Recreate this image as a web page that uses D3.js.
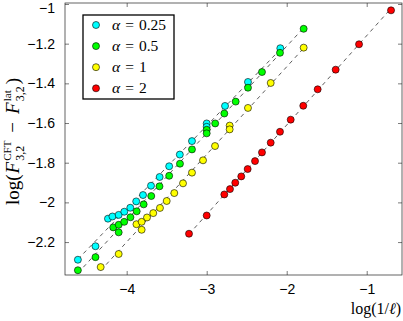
<!DOCTYPE html>
<html>
<head>
<meta charset="utf-8">
<script src="https://cdn.jsdelivr.net/npm/d3@7"></script>
<style>
  body { margin: 0; background: #fff; }
  svg { display: block; }
</style>
</head>
<body>
<div id="chart"></div>
<script>
// tick values
const xTicks = [-4, -3, -2, -1]
const yTicks = [-2.2, -2, -1.8, -1.6, -1.4, -1.2, -1]

// legend
const alphaLabels = ['0.25', '0.5', '1', '2']
const seriesColors = ['#00ffff', '#00ff00', '#ffff00', '#ff0000']

// alpha = 0.25
const cyanX = [-4.61, -4.39, -4.234, -4.178, -4.10, -4.03, -3.955, -3.881, -3.796, -3.696, -3.588, -3.469, -3.336, -3.184, -3.00, -3.00, -2.771, -2.484, -2.08]
const cyanY = [-2.289, -2.221, -2.082, -2.071, -2.063, -2.047, -2.027, -1.995, -1.963, -1.916, -1.872, -1.818, -1.759, -1.691, -1.602, -1.619, -1.514, -1.393, -1.223]

// alpha = 0.5
const greenX = [-4.61, -4.39, -4.168, -4.10, -4.10, -4.031, -3.953, -3.875, -3.788, -3.693, -3.59, -3.469, -3.334, -3.184, -3.00, -3.00, -2.894, -2.78, -2.638, -2.484, -2.309, -2.084, -1.788]
const greenY = [-2.342, -2.276, -2.126, -2.113, -2.151, -2.098, -2.075, -2.045, -2.010, -1.968, -1.919, -1.866, -1.805, -1.733, -1.634, -1.652, -1.602, -1.552, -1.492, -1.422, -1.343, -1.246, -1.125]

// alpha = 1
const yellowX = [-4.325, -4.10, -3.878, -3.813, -3.813, -3.746, -3.668, -3.584, -3.50, -3.405, -3.296, -3.184, -3.046, -2.896, -2.713, -2.713, -2.484, -2.20, -1.788]
const yellowY = [-2.326, -2.260, -2.110, -2.098, -2.138, -2.076, -2.054, -2.028, -1.993, -1.953, -1.904, -1.850, -1.788, -1.716, -1.613, -1.632, -1.524, -1.398, -1.220]

// alpha = 2
const redX = [-3.221, -3.000, -2.780, -2.709, -2.643, -2.568, -2.488, -2.396, -2.309, -2.200, -2.084, -1.950, -1.793, -1.613, -1.388, -1.096, -0.696]
const redY = [-2.158, -2.066, -1.960, -1.933, -1.901, -1.869, -1.832, -1.792, -1.748, -1.699, -1.644, -1.583, -1.513, -1.430, -1.331, -1.203, -1.032]

const seriesX = [cyanX, greenX, yellowX, redX]
const seriesY = [cyanY, greenY, yellowY, redY]

const width = 403
const height = 321
const margin = { top: 3, right: 1, bottom: 46, left: 65 }

const svg = d3.select('#chart').append('svg')
  .attr('width', width)
  .attr('height', height)

const xScale = d3.scaleLinear()
  .domain([-4.771, -0.559])
  .range([margin.left, width - margin.right])

const yScale = d3.scaleLinear()
  .domain([-2.366, -0.995])
  .range([height - margin.bottom, margin.top])

const fmt = d => d3.format('')(d).replace('-', '\u2212')

// axes, ticks inside like matlab
const tickLen = 4
const axisStyle = g => {
  g.select('.domain').remove()
  g.selectAll('line').attr('stroke', '#222').attr('stroke-width', 0.6)
  g.selectAll('text')
    .style('font-family', '"Liberation Sans", Arial, sans-serif')
    .style('font-size', '14px')
    .attr('fill', '#000')
}

svg.append('g')
  .attr('transform', `translate(0,${height - margin.bottom})`)
  .call(d3.axisBottom(xScale).tickValues(xTicks).tickSizeInner(-tickLen).tickSizeOuter(0).tickPadding(9).tickFormat(fmt))
  .call(axisStyle)

svg.append('g')
  .attr('transform', `translate(0,${margin.top})`)
  .call(d3.axisTop(xScale).tickValues(xTicks).tickSizeInner(-tickLen).tickSizeOuter(0).tickFormat(''))
  .call(axisStyle)

svg.append('g')
  .attr('transform', `translate(${margin.left},0)`)
  .call(d3.axisLeft(yScale).tickValues(yTicks).tickSizeInner(-tickLen).tickSizeOuter(0).tickPadding(10).tickFormat(fmt))
  .call(axisStyle)
  .selectAll('.tick text')
  .filter(d => d === -1)
  .attr('y', 4) // top label pushed down so it stays on the page

svg.append('g')
  .attr('transform', `translate(${width - margin.right},0)`)
  .call(d3.axisRight(yScale).tickValues(yTicks).tickSizeInner(-tickLen).tickSizeOuter(0).tickFormat(''))
  .call(axisStyle)

// plot box
svg.append('rect')
  .attr('x', margin.left)
  .attr('y', margin.top)
  .attr('width', width - margin.left - margin.right)
  .attr('height', height - margin.top - margin.bottom)
  .attr('fill', 'none')
  .attr('stroke', '#222')
  .attr('stroke-width', 0.7)

// dashed least squares lines
const fitLine = d3.line().x(d => xScale(d[0])).y(d => yScale(d[1]))
seriesX.forEach((xs, i) => {
  const ys = seriesY[i]
  const mx = d3.mean(xs)
  const my = d3.mean(ys)
  const slope = d3.sum(xs, (x, j) => (x - mx) * (ys[j] - my)) / d3.sum(xs, x => (x - mx) * (x - mx))
  const [x0, x1] = d3.extent(xs)
  svg.append('path')
    .datum([[x0, my + slope * (x0 - mx)], [x1, my + slope * (x1 - mx)]])
    .attr('d', fitLine)
    .attr('fill', 'none')
    .attr('stroke', '#333')
    .attr('stroke-width', 0.8)
    .attr('stroke-dasharray', '4,4')
})

// markers
seriesX.forEach((xs, i) => {
  svg.append('g')
    .selectAll('circle')
    .data(xs.map((x, j) => [x, seriesY[i][j]]))
    .enter()
    .append('circle')
    .attr('cx', d => xScale(d[0]))
    .attr('cy', d => yScale(d[1]))
    .attr('r', 3.5)
    .attr('fill', seriesColors[i])
    .attr('stroke', '#000')
    .attr('stroke-width', 0.6)
})

// legend
const serif = '"Liberation Serif", "DejaVu Serif", serif'
const legend = svg.append('g')
legend.append('rect')
  .attr('x', 83)
  .attr('y', 15)
  .attr('width', 91)
  .attr('height', 84)
  .attr('fill', '#fff')
  .attr('stroke', '#000')
  .attr('stroke-width', 1.3)

alphaLabels.forEach((a, i) => {
  const cy = 25 + i * 21.1
  legend.append('circle')
    .attr('cx', 96)
    .attr('cy', cy)
    .attr('r', 3.5)
    .attr('fill', seriesColors[i])
    .attr('stroke', '#000')
    .attr('stroke-width', 0.6)
  const t = legend.append('text')
    .attr('x', 112)
    .attr('y', cy + 5)
    .style('font-family', serif)
    .style('font-size', '15.5px')
  t.append('tspan').style('font-style', 'italic').text('\u03b1')
  t.append('tspan').attr('dx', 5).text('=')
  t.append('tspan').attr('dx', 5).text(a)
})

// x label
const xl = svg.append('text')
  .attr('x', 401)
  .attr('y', 314)
  .attr('text-anchor', 'end')
  .style('font-family', serif)
  .style('font-size', '16px')
xl.append('tspan').text('log(1/')
xl.append('tspan').style('font-style', 'italic').text('\u2113')
xl.append('tspan').text(')')

// y label, pieces laid out one after another then rotated
const ylOuter = svg.append('g').attr('transform', 'translate(19,141) rotate(-90)')
const yl = ylOuter.append('g')
const pieces = [
  { t: 'log(' },
  { t: 'F', it: true, gap: 1 },
  { sup: 'CFT', sub: '3,2' },
  { t: '\u2212', gap: 7 },
  { t: 'F', it: true, gap: 1 },
  { sup: 'lat', sub: '3,2' },
  { t: ')', gap: 1 }
]
let cursor = 0
pieces.forEach(p => {
  if (p.sup) {
    const a = yl.append('text').attr('x', cursor).attr('y', -8)
      .style('font-family', serif).style('font-size', '11px').text(p.sup)
    const b = yl.append('text').attr('x', cursor).attr('y', 5)
      .style('font-family', serif).style('font-size', '12px').text(p.sub)
    cursor += Math.max(a.node().getComputedTextLength(), b.node().getComputedTextLength()) + 1
  } else {
    cursor += p.gap || 0
    const t = yl.append('text').attr('x', cursor).attr('y', 0)
      .style('font-family', serif).style('font-size', '19px')
      .style('font-style', p.it ? 'italic' : 'normal')
      .text(p.t)
    cursor += t.node().getComputedTextLength() + (p.gap || 0)
  }
})
yl.attr('transform', `translate(${-cursor / 2},0)`)
</script>
</body>
</html>
